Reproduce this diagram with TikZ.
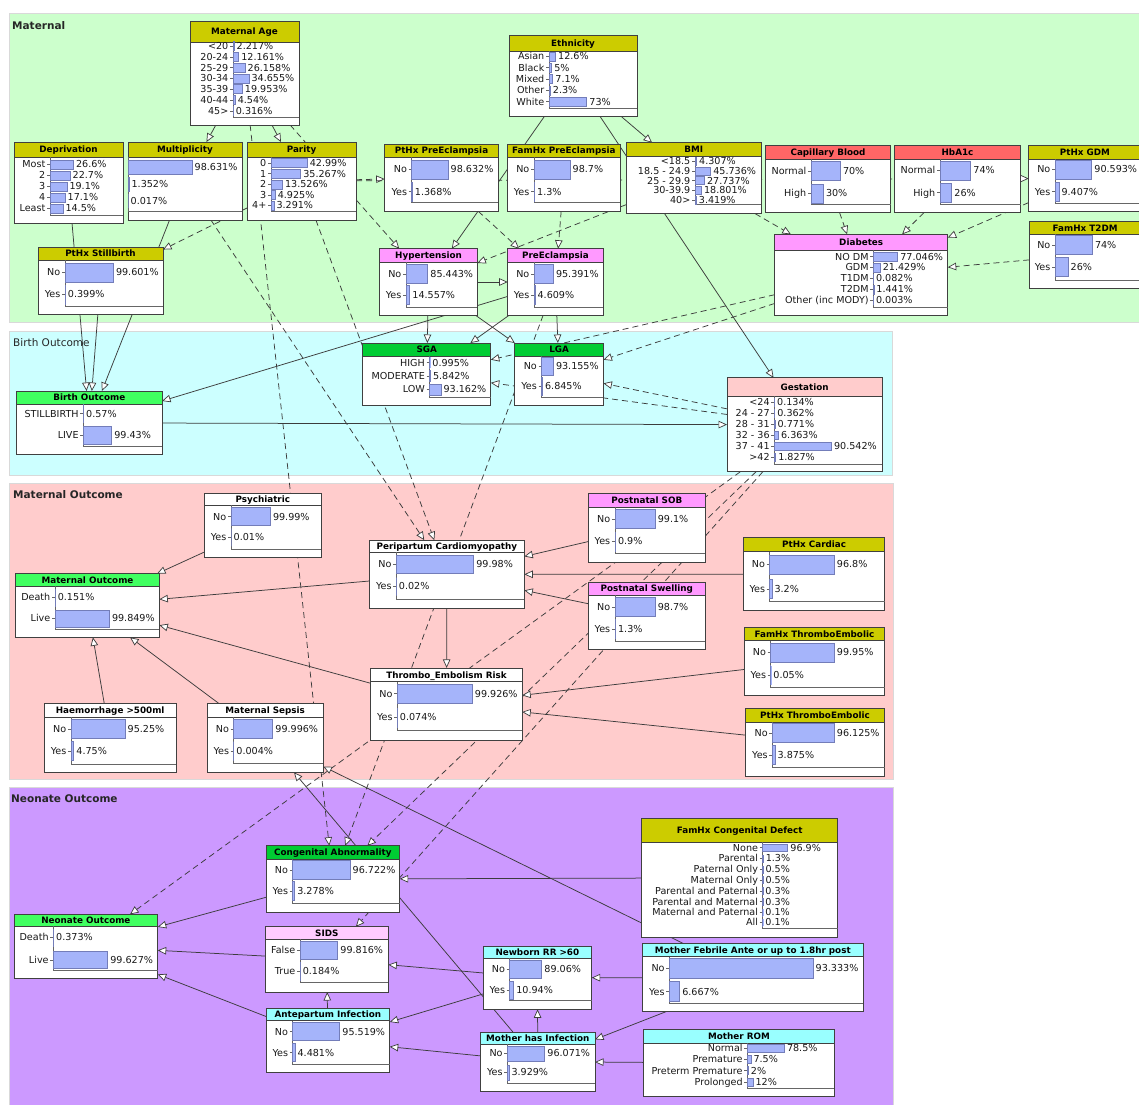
\documentclass[tikz,border=0pt]{standalone}
\usepackage{fontspec}
\setmainfont{DejaVu Sans}
\usetikzlibrary{arrows.meta}
\pgfdeclarelayer{regions}
\pgfdeclarelayer{edges}
\pgfsetlayers{regions,edges,main}

\definecolor{regmat}{RGB}{204,255,204}
\definecolor{regbirth}{RGB}{204,255,255}
\definecolor{regmout}{RGB}{255,204,204}
\definecolor{regneo}{RGB}{204,153,255}
\definecolor{hdrolive}{RGB}{204,204,0}
\definecolor{hdrred}{RGB}{255,102,102}
\definecolor{hdrmagenta}{RGB}{255,153,255}
\definecolor{hdrgreen}{RGB}{64,255,96}
\definecolor{hdrdkgreen}{RGB}{0,204,51}
\definecolor{hdrpink}{RGB}{255,204,204}
\definecolor{hdrsids}{RGB}{255,204,255}
\definecolor{hdrcyan}{RGB}{153,255,255}
\definecolor{hdrwhite}{RGB}{255,255,255}
\definecolor{barblue}{RGB}{165,180,250}
\definecolor{baredge}{RGB}{115,125,185}
\definecolor{linecol}{RGB}{60,60,60}

\newcommand\valfont{\fontsize{9.6}{11}\selectfont}
\newcommand\ttlfont{\fontsize{8.8}{10}\selectfont\bfseries}

\tikzset{
  regionbox/.style={draw=black!15, line width=0.7pt},
  regionlabel/.style={anchor=base west, inner sep=0pt, font=\fontsize{10.5}{12}\selectfont\bfseries, text=black!85},
  bnanchor/.style={inner sep=0pt, outer sep=0pt, rectangle},
  boxline/.style={draw=black!75, line width=0.8pt},
  bntitle/.style={anchor=base, inner sep=0pt, font=\ttlfont, text=black},
  bnlabel/.style={anchor=base east, inner sep=0pt, font=\valfont, text=black!90},
  bnvalue/.style={anchor=base west, inner sep=0pt, font=\valfont, text=black!90},
  frameline/.style={draw=black!60, line width=0.7pt},
  tickline/.style={draw=black!60, line width=0.6pt},
  belief/.style={fill=barblue, draw=baredge, line width=0.5pt},
  link/.style={draw=linecol, line width=0.75pt, -{Triangle[fill=white, length=8.5pt, width=7.5pt, line width=0.7pt]}},
  dlink/.style={link, dash pattern=on 6pt off 4pt},
}

% #1 name, #2 x1, #3 y1, #4 x2, #5 y2, #6 header bottom, #7 header colour, #8 title
\newcommand\bnnode[8]{%
  \node[bnanchor, minimum width={(#4-#2)*1pt}, minimum height={(#5-#3)*1pt}] (#1) at ({(#2+#4)/2},{(#3+#5)/2}) {};
  \fill[white] (#2,#3) rectangle (#4,#5);
  \fill[#7] (#2,#3) rectangle (#4,#6);
  \draw[boxline] (#2,#6) -- (#4,#6);
  \draw[boxline] (#2,#3) rectangle (#4,#5);
  \node[bntitle] at ({(#2+#4)/2},{(#3+#6)/2+3.2}) {#8};
}
% #1 sep x, #2 header bottom, #3 inner bottom, #4 right x
\newcommand\bnframe[4]{%
  \draw[frameline] (#1,#2) -- (#1,#3) -- (#4,#3);
}
% #1 sep x, #2 y, #3 bar height, #4 label, #5 bar length, #6 value
\newcommand\bnrow[6]{%
  \draw[tickline] ({#1-3},#2) -- (#1,#2);
  \node[bnlabel] at ({#1-4.5},{#2+3.4}) {#4};
  \filldraw[belief] (#1,{#2-#3/2}) rectangle ({#1+#5},{#2+#3/2});
  \node[bnvalue] at ({#1+#5+2.5},{#2+3.4}) {#6};
}
% row without label
\newcommand\bnrowN[5]{%
  \filldraw[belief] (#1,{#2-#3/2}) rectangle ({#1+#4},{#2+#3/2});
  \node[bnvalue] at ({#1+#4+2.5},{#2+3.4}) {#5};
}

\begin{document}
\begin{tikzpicture}[x=1pt,y=-1pt]
\useasboundingbox (0,0) rectangle (1139,1104);

\begin{pgfonlayer}{regions}
  \fill[white] (0,0) rectangle (1139,1104);
  \filldraw[regionbox, fill=regmat] (9,13) rectangle (1145,322);
  \filldraw[regionbox, fill=regbirth] (9,331) rectangle (892,475);
  \filldraw[regionbox, fill=regmout] (9,483) rectangle (893,779);
  \filldraw[regionbox, fill=regneo] (9,787) rectangle (893,1110);
\end{pgfonlayer}

\node[regionlabel] (lblmat) at (12,29) {Maternal};
\node[regionlabel, font=\fontsize{10.5}{12}\selectfont] (lblbirth) at (13,346) {Birth Outcome};
\node[regionlabel] (lblmout) at (13,498.5) {Maternal Outcome};
\node[regionlabel] (lblneo) at (11,802.5) {Neonate Outcome};

% ================= Maternal =================
\bnnode{matage}{190}{21}{299}{125}{42}{hdrolive}{Maternal Age}
\bnframe{233}{42}{117}{299}
\bnrow{233}{46}{9}{<20}{1.0}{2.217\%}
\bnrow{233}{56.8}{9}{20-24}{5.6}{12.161\%}
\bnrow{233}{67.6}{9}{25-29}{12.0}{26.158\%}
\bnrow{233}{78.4}{9}{30-34}{15.9}{34.655\%}
\bnrow{233}{89.2}{9}{35-39}{9.2}{19.953\%}
\bnrow{233}{100}{9}{40-44}{2.1}{4.54\%}
\bnrow{233}{110.8}{9}{45>}{0.15}{0.316\%}

\bnnode{deprivation}{14}{142}{123}{223}{157}{hdrolive}{Deprivation}
\bnframe{50}{157}{215}{123}
\bnrow{50}{164.5}{9}{Most}{23.4}{26.6\%}
\bnrow{50}{175.5}{9}{2}{20.0}{22.7\%}
\bnrow{50}{186.5}{9}{3}{16.8}{19.1\%}
\bnrow{50}{197.5}{9}{4}{15.0}{17.1\%}
\bnrow{50}{208.5}{9}{Least}{12.8}{14.5\%}

\bnnode{multiplicity}{128}{142}{242}{220}{157}{hdrolive}{Multiplicity}
\bnframe{128}{157}{211}{242}
\bnrowN{128}{167}{14}{64}{98.631\%}
\bnrowN{128}{184}{14}{0.9}{1.352\%}
\bnrowN{128}{201}{14}{0}{0.017\%}

\bnnode{parity}{247}{142}{356}{220}{157}{hdrolive}{Parity}
\bnframe{271}{157}{211}{356}
\bnrow{271}{163}{9}{0}{36.1}{42.99\%}
\bnrow{271}{173.7}{9}{1}{29.6}{35.267\%}
\bnrow{271}{184.3}{9}{2}{11.4}{13.526\%}
\bnrow{271}{195}{9}{3}{4.1}{4.925\%}
\bnrow{271}{205.5}{9}{4+}{2.8}{3.291\%}

\bnnode{pthxstill}{38}{247}{163}{314}{260}{hdrolive}{PtHx Stillbirth}
\bnframe{65}{260}{306}{163}
\bnrow{65}{272.5}{19}{No}{48.3}{99.601\%}
\bnrow{65}{294.5}{19}{Yes}{0.2}{0.399\%}

\bnnode{ethnicity}{509}{35}{637}{116}{51}{hdrolive}{Ethnicity}
\bnframe{549}{51}{108}{637}
\bnrow{549}{56.3}{9}{Asian}{6.5}{12.6\%}
\bnrow{549}{67.6}{9}{Black}{2.6}{5\%}
\bnrow{549}{79}{9}{Mixed}{3.7}{7.1\%}
\bnrow{549}{90.3}{9}{Other}{1.2}{2.3\%}
\bnrow{549}{101.6}{9}{White}{37.7}{73\%}

\bnnode{pthxpe}{384.7}{144}{498.3}{211.3}{157.3}{hdrolive}{PtHx PreEclampsia}
\bnframe{411.7}{157.3}{202.3}{498.3}
\bnrow{411.7}{169.5}{19}{No}{36.3}{98.632\%}
\bnrow{411.7}{191.7}{19}{Yes}{0.5}{1.368\%}

\bnnode{famhxpe}{507.7}{144}{620}{211.3}{157.3}{hdrolive}{FamHx PreEclampsia}
\bnframe{534}{157.3}{202.3}{620}
\bnrow{534}{169.5}{19}{No}{36}{98.7\%}
\bnrow{534}{191.7}{19}{Yes}{0.5}{1.3\%}

\bnnode{bmi}{626.7}{142.7}{761}{213.7}{156.7}{hdrolive}{BMI}
\bnframe{695}{156.7}{204.7}{761}
\bnrow{695}{161.3}{8}{<18.5}{1.5}{4.307\%}
\bnrow{695}{171}{8}{18.5 - 24.9}{15.6}{45.736\%}
\bnrow{695}{180.7}{8}{25 - 29.9}{9.4}{27.737\%}
\bnrow{695}{190.4}{8}{30-39.9}{6.4}{18.801\%}
\bnrow{695}{200}{8}{40>}{1.2}{3.419\%}

\bnnode{hyper}{379.7}{248.7}{477.3}{315.3}{262}{hdrmagenta}{Hypertension}
\bnframe{406}{262}{307}{477.3}
\bnrow{406}{274}{19}{No}{21.7}{85.443\%}
\bnrow{406}{295}{19}{Yes}{3.7}{14.557\%}

\bnnode{preecl}{507.7}{248.7}{603.3}{315.3}{262}{hdrmagenta}{PreEclampsia}
\bnframe{534}{262}{307}{603.3}
\bnrow{534}{274}{19}{No}{19.3}{95.391\%}
\bnrow{534}{295}{19}{Yes}{0.9}{4.609\%}

\bnnode{capblood}{765.3}{145.7}{890.7}{212.7}{159}{hdrred}{Capillary Blood}
\bnframe{811}{159}{204.7}{890.7}
\bnrow{811}{171}{19}{Normal}{29.3}{70\%}
\bnrow{811}{193.3}{19}{High}{12.3}{30\%}

\bnnode{hba1c}{894.3}{145.7}{1020.7}{212.7}{159}{hdrred}{HbA1c}
\bnframe{940}{159}{204.7}{1020.7}
\bnrow{940}{170.3}{19}{Normal}{30.7}{74\%}
\bnrow{940}{192.7}{19}{High}{11.7}{26\%}

\bnnode{pthxgdm}{1028.7}{145.7}{1141}{211}{159}{hdrolive}{PtHx GDM}
\bnframe{1055}{159}{203}{1141}
\bnrow{1055}{169.3}{19}{No}{36.7}{90.593\%}
\bnrow{1055}{191.7}{19}{Yes}{3.8}{9.407\%}

\bnnode{famhxt2dm}{1029.3}{221.7}{1141}{288}{234.3}{hdrolive}{FamHx T2DM}
\bnframe{1055}{234.3}{280}{1141}
\bnrow{1055}{245}{19}{No}{37.3}{74\%}
\bnrow{1055}{267}{19}{Yes}{13}{26\%}

\bnnode{diabetes}{774.7}{234.3}{947.7}{315.7}{250}{hdrmagenta}{Diabetes}
\bnframe{873.3}{250}{307.7}{947.7}
\bnrow{873.3}{256.7}{9}{NO DM}{24.3}{77.046\%}
\bnrow{873.3}{267.5}{9}{GDM}{6.8}{21.429\%}
\bnrow{873.3}{278.5}{9}{T1DM}{0.03}{0.082\%}
\bnrow{873.3}{289.5}{9}{T2DM}{0.46}{1.441\%}
\bnrow{873.3}{300.5}{9}{Other (inc MODY)}{0}{0.003\%}

% ================= Birth outcome =================
\bnnode{birthout}{16.7}{391}{162}{454.7}{404}{hdrgreen}{Birth Outcome}
\bnframe{83.3}{404}{446}{162}
\bnrow{83.3}{413.7}{18}{STILLBIRTH}{0.16}{0.57\%}
\bnrow{83.3}{435.5}{18}{LIVE}{28.3}{99.43\%}

\bnnode{sga}{362.7}{343}{490.8}{405.5}{356.2}{hdrdkgreen}{SGA}
\bnframe{429.6}{356.2}{397.4}{490.8}
\bnrow{429.6}{362.6}{11}{HIGH}{0.12}{0.995\%}
\bnrow{429.6}{375.8}{11}{MODERATE}{0.7}{5.842\%}
\bnrow{429.6}{389.3}{11}{LOW}{11.3}{93.162\%}

\bnnode{lga}{514.8}{343}{603.4}{405.5}{356.2}{hdrdkgreen}{LGA}
\bnframe{541.5}{356.2}{397.4}{603.4}
\bnrow{541.5}{366}{18}{No}{11.8}{93.155\%}
\bnrow{541.5}{386.2}{18}{Yes}{0.9}{6.845\%}

\bnnode{gestation}{727}{377.8}{882.2}{471.8}{396}{hdrpink}{Gestation}
\bnframe{774.4}{396}{464.3}{882.2}
\bnrow{774.4}{401.8}{8}{<24}{0.08}{0.134\%}
\bnrow{774.4}{412.9}{8}{24 - 27}{0.23}{0.362\%}
\bnrow{774.4}{423.8}{8}{28 - 31}{0.49}{0.771\%}
\bnrow{774.4}{435}{8}{32 - 36}{4}{6.363\%}
\bnrow{774.4}{446.2}{8}{37 - 41}{57}{90.542\%}
\bnrow{774.4}{457.2}{8}{>42}{1.15}{1.827\%}

% ================= Maternal outcome =================
\bnnode{psych}{204.3}{493.3}{321.3}{557.3}{505.3}{hdrwhite}{Psychiatric}
\bnframe{231}{505.3}{549}{321.3}
\bnrow{231}{516.7}{18}{No}{39.3}{99.99\%}
\bnrow{231}{537.3}{18}{Yes}{0}{0.01\%}

\bnnode{matout}{15.7}{573.7}{159.3}{637.3}{586}{hdrgreen}{Maternal Outcome}
\bnframe{55}{586}{629.3}{159.3}
\bnrow{55}{597.3}{17}{Death}{0.08}{0.151\%}
\bnrow{55}{618.5}{17}{Live}{54.3}{99.849\%}

\bnnode{pericard}{369.5}{540.2}{524.3}{608.4}{552.3}{hdrwhite}{Peripartum Cardiomyopathy}
\bnframe{396.2}{552.3}{599}{524.3}
\bnrow{396.2}{564.5}{18}{No}{77.4}{99.98\%}
\bnrow{396.2}{586.5}{18}{Yes}{0}{0.02\%}

\bnnode{postsob}{588.5}{493.5}{705.1}{562.5}{507.4}{hdrmagenta}{Postnatal SOB}
\bnframe{614.9}{507.4}{553.7}{705.1}
\bnrow{614.9}{519}{19}{No}{40.2}{99.1\%}
\bnrow{614.9}{541.5}{19}{Yes}{0.4}{0.9\%}

\bnnode{pthxcard}{743.6}{537.8}{884.6}{610.8}{551.7}{hdrolive}{PtHx Cardiac}
\bnframe{769.7}{551.7}{601.7}{884.6}
\bnrow{769.7}{564.5}{19}{No}{64.5}{96.8\%}
\bnrow{769.7}{588.8}{19}{Yes}{2.1}{3.2\%}

\bnnode{postswell}{588.5}{582.1}{705.1}{649.7}{594.9}{hdrmagenta}{Postnatal Swelling}
\bnframe{614.9}{594.9}{640.9}{705.1}
\bnrow{614.9}{606.8}{19}{No}{40.2}{98.7\%}
\bnrow{614.9}{629}{19}{Yes}{0.5}{1.3\%}

\bnnode{famhxte}{744.3}{627}{884.6}{695.6}{640.6}{hdrolive}{FamHx ThromboEmbolic}
\bnframe{770.7}{640.6}{686.9}{884.6}
\bnrow{770.7}{652.4}{19}{No}{63.5}{99.95\%}
\bnrow{770.7}{675}{19}{Yes}{0.03}{0.05\%}

\bnnode{pthxte}{745.3}{708.5}{884.6}{776.1}{722}{hdrolive}{PtHx ThromboEmbolic}
\bnframe{772.4}{722}{767.3}{884.6}
\bnrow{772.4}{732.8}{19}{No}{61.8}{96.125\%}
\bnrow{772.4}{754.8}{19}{Yes}{2.5}{3.875\%}

\bnnode{thrombo}{370.8}{667.9}{522.2}{740.3}{681.8}{hdrwhite}{Thrombo\_Embolism Risk}
\bnframe{397.2}{681.8}{730.8}{522.2}
\bnrow{397.2}{693.6}{19}{No}{75}{99.926\%}
\bnrow{397.2}{717.3}{19}{Yes}{0.06}{0.074\%}

\bnnode{haem}{44.3}{703.3}{176}{772.7}{717.3}{hdrwhite}{Haemorrhage >500ml}
\bnframe{71}{717.3}{764}{176}
\bnrow{71}{729}{19}{No}{54}{95.25\%}
\bnrow{71}{751}{19}{Yes}{2.7}{4.75\%}

\bnnode{sepsis}{207}{703.7}{323.3}{772.3}{717.3}{hdrwhite}{Maternal Sepsis}
\bnframe{233.7}{717.3}{763.3}{323.3}
\bnrow{233.7}{729}{19}{No}{39}{99.996\%}
\bnrow{233.7}{751}{19}{Yes}{0}{0.004\%}

% ================= Neonate outcome =================
\bnnode{congab}{266}{845.7}{399.7}{912.3}{859}{hdrdkgreen}{Congenital Abnormality}
\bnframe{292.7}{859}{903.3}{399.7}
\bnrow{292.7}{870}{19}{No}{57.3}{96.722\%}
\bnrow{292.7}{891}{19}{Yes}{1.9}{3.278\%}

\bnnode{neoout}{14}{914.3}{157.7}{978.7}{926.3}{hdrgreen}{Neonate Outcome}
\bnframe{53.3}{926.3}{970.3}{157.7}
\bnrow{53.3}{937.3}{17}{Death}{0.2}{0.373\%}
\bnrow{53.3}{960}{17}{Live}{54.3}{99.627\%}

\bnnode{sids}{265.3}{926.7}{388.3}{992}{939.3}{hdrsids}{SIDS}
\bnframe{300}{939.3}{982.7}{388.3}
\bnrow{300}{950.3}{18}{False}{37.7}{99.816\%}
\bnrow{300}{971}{18}{True}{0.07}{0.184\%}

\bnnode{anteinf}{266}{1008.7}{389.7}{1072.3}{1020.7}{hdrcyan}{Antepartum Infection}
\bnframe{292.7}{1020.7}{1064}{389.7}
\bnrow{292.7}{1031.7}{18}{No}{47}{95.519\%}
\bnrow{292.7}{1052.7}{18}{Yes}{2.2}{4.481\%}

\bnnode{famhxcd}{641.7}{818.3}{837.7}{937.3}{842.3}{hdrolive}{FamHx Congenital Defect}
\bnframe{762.7}{842.3}{928.3}{837.7}
\bnrow{762.7}{847.7}{7}{None}{25}{96.9\%}
\bnrow{762.7}{858.5}{7}{Parental}{0.34}{1.3\%}
\bnrow{762.7}{869.3}{7}{Paternal Only}{0.13}{0.5\%}
\bnrow{762.7}{880}{7}{Maternal Only}{0.13}{0.5\%}
\bnrow{762.7}{890.8}{7}{Parental and Paternal}{0.08}{0.3\%}
\bnrow{762.7}{901.6}{7}{Parental and Maternal}{0.08}{0.3\%}
\bnrow{762.7}{912.4}{7}{Maternal and Paternal}{0.03}{0.1\%}
\bnrow{762.7}{922.5}{7}{All}{0.03}{0.1\%}

\bnnode{newbornrr}{483}{946}{591.7}{1009.3}{958.3}{hdrcyan}{Newborn RR >60}
\bnframe{509.7}{958.3}{1000.3}{591.7}
\bnrow{509.7}{969.3}{18}{No}{32}{89.06\%}
\bnrow{509.7}{990}{18}{Yes}{3.9}{10.94\%}

\bnnode{mofebrile}{642.7}{943.7}{863}{1011.7}{956.7}{hdrcyan}{Mother Febrile Ante or up to 1.8hr post}
\bnframe{669.3}{956.7}{1003}{863}
\bnrow{669.3}{968.3}{20}{No}{143.7}{93.333\%}
\bnrow{669.3}{991.7}{20}{Yes}{10.3}{6.667\%}

\bnnode{moinf}{480.7}{1032}{595}{1091.3}{1044}{hdrcyan}{Mother has Infection}
\bnframe{507.3}{1044}{1083.3}{595}
\bnrow{507.3}{1053.3}{15}{No}{37.4}{96.071\%}
\bnrow{507.3}{1072.3}{15}{Yes}{1.5}{3.929\%}

\bnnode{morom}{643.7}{1029.3}{834.3}{1096.7}{1043.3}{hdrcyan}{Mother ROM}
\bnframe{747.3}{1043.3}{1088.7}{834.3}
\bnrow{747.3}{1048}{8}{Normal}{37}{78.5\%}
\bnrow{747.3}{1059.3}{8}{Premature}{3.5}{7.5\%}
\bnrow{747.3}{1070.7}{8}{Preterm Premature}{0.9}{2\%}
\bnrow{747.3}{1082.3}{8}{Prolonged}{5.6}{12\%}

% ================= Links =================
\begin{pgfonlayer}{edges}
\draw[link]  (matage) -- (multiplicity);
\draw[link]  (matage) -- (parity);
\draw[dlink] (matage) -- (congab);
\draw[dlink] (matage) -- (hyper);
\draw[dlink] (parity) -- (pthxpe);
\draw[dlink] (parity) -- (pthxgdm);
\draw[dlink] (parity) -- (pthxstill);
\draw[dlink] (parity) -- (pericard);
\draw[link]  (multiplicity) -- (birthout);
\draw[dlink] (multiplicity) -- (pericard);
\draw[link]  (deprivation) -- (birthout);
\draw[link]  (pthxstill) -- (birthout);
\draw[link]  (ethnicity) -- (bmi);
\draw[link]  (ethnicity) -- (hyper);
\draw[link]  (ethnicity) -- (gestation);
\draw[dlink] (pthxpe) -- (preecl);
\draw[dlink] (famhxpe) -- (preecl);
\draw[dlink] (bmi) -- (hyper);
\draw[dlink] (bmi) -- (diabetes);
\draw[dlink] (capblood) -- (diabetes);
\draw[dlink] (hba1c) -- (diabetes);
\draw[dlink] (pthxgdm) -- (diabetes);
\draw[dlink] (famhxt2dm) -- (diabetes);
\draw[link]  (hyper) -- (preecl);
\draw[link]  (hyper) -- (sga);
\draw[link]  (hyper) -- (lga);
\draw[link]  (preecl) -- (sga);
\draw[link]  (preecl) -- (lga);
\draw[link]  (preecl) -- (birthout);
\draw[dlink] (preecl) -- (congab);
\draw[dlink] (gestation) -- (sga);
\draw[dlink] (gestation) -- (lga);
\draw[dlink] (diabetes) -- (sga);
\draw[dlink] (diabetes) -- (lga);
\draw[link]  (birthout) -- (gestation);
\draw[dlink] (gestation) -- (neoout);
\draw[dlink] (gestation) -- (congab);
\draw[dlink] (gestation) -- (sids);
\draw[link]  (psych) -- (matout);
\draw[link]  (pericard) -- (matout);
\draw[link]  (thrombo) -- (matout);
\draw[link]  (haem) -- (matout);
\draw[link]  (sepsis) -- (matout);
\draw[link]  (postsob) -- (pericard);
\draw[link]  (pthxcard) -- (pericard);
\draw[link]  (postswell) -- (pericard);
\draw[link]  (pericard) -- (thrombo);
\draw[link]  (famhxte) -- (thrombo);
\draw[link]  (pthxte) -- (thrombo);
\draw[link]  (mofebrile) -- (sepsis);
\draw[link]  (moinf) -- (sepsis);
\draw[link]  (congab) -- (neoout);
\draw[link]  (sids) -- (neoout);
\draw[link]  (anteinf) -- (neoout);
\draw[link]  (anteinf) -- (sids);
\draw[link]  (famhxcd) -- (congab);
\draw[link]  (newbornrr) -- (sids);
\draw[link]  (moinf) -- (anteinf);
\draw[link]  (newbornrr) -- (anteinf);
\draw[link]  (moinf) -- (newbornrr);
\draw[link]  (mofebrile) -- (newbornrr);
\draw[link]  (mofebrile) -- (moinf);
\draw[link]  (morom) -- (moinf);
\end{pgfonlayer}
\end{tikzpicture}
\end{document}
